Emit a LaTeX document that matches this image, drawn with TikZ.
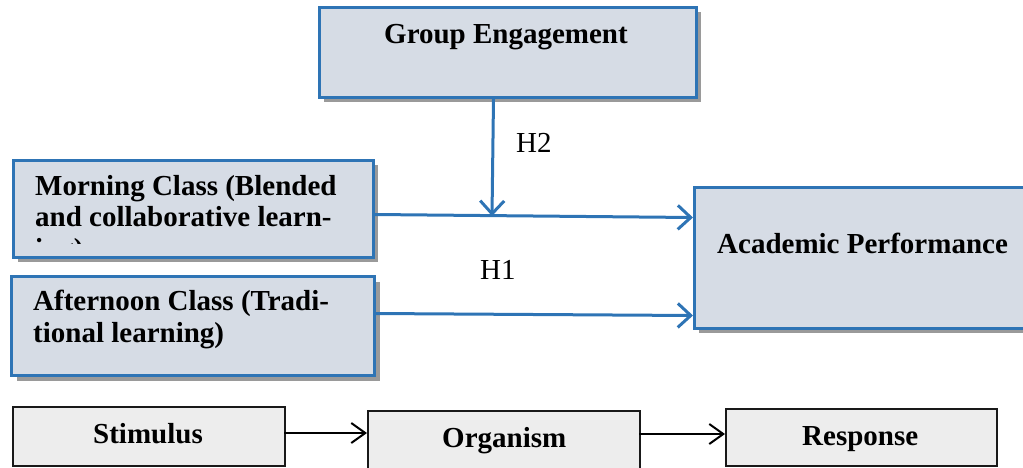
\documentclass[tikz,border=0pt]{standalone}
\usepackage{fontspec}
\setmainfont{Liberation Serif}
\usetikzlibrary{arrows.meta,calc}
\definecolor{boxblue}{HTML}{2E74B5}
\definecolor{boxfill}{HTML}{D6DCE5}
\definecolor{shadowgray}{HTML}{9A9A9A}
\definecolor{sorfill}{HTML}{EDEDED}
\tikzset{
 bluebox/.style={draw=boxblue, line width=3pt, fill=boxfill, inner sep=0pt, anchor=north west},
 shadowbox/.style={fill=shadowgray, draw=none, inner sep=0pt, anchor=north west},
 lbl/.style={font=\fontsize{29}{31.5}\selectfont\bfseries, anchor=base west, inner sep=0pt, align=left},
 hlbl/.style={font=\fontsize{29}{31}\selectfont, anchor=base west, inner sep=0pt},
 bluearrow/.style={draw=boxblue, line width=3pt, -{Straight Barb[length=13pt,width=24pt,line width=3pt]}},
 sorbox/.style={draw=black!90, line width=2pt, fill=sorfill, inner sep=0pt, anchor=north west},
 sorlbl/.style={font=\fontsize{29}{31}\selectfont\bfseries, anchor=base west, inner sep=0pt},
 blackarrow/.style={draw=black, line width=2pt, -{Straight Barb[length=14pt,width=20pt,line width=2pt]}},
}
\begin{document}
\begin{tikzpicture}[x=1pt,y=-1pt]
\useasboundingbox (0,0) rectangle (1023,467);
\clip (0,0) rectangle (1023,467);
% Group Engagement
\node[shadowbox, minimum width=377pt, minimum height=90pt] (ges) at (324,12) {};
\node[bluebox, minimum width=377pt, minimum height=90pt] (ge) at (318,6) {};
\node[lbl] (get) at (384,43) {Group Engagement};
% Morning class
\node[shadowbox, minimum width=360pt, minimum height=97pt] (mcs) at (18,165) {};
\node[bluebox, minimum width=360pt, minimum height=97pt] (mc) at (12,159) {};
\begin{scope}
\clip (12,159) rectangle (372,243);
\node[lbl] (mct) at (35,258) {Morning Class (Blended\\and collaborative learn-\\ing)};
\end{scope}
% Afternoon class
\node[shadowbox, minimum width=363pt, minimum height=99pt] (acs) at (17,282) {};
\node[bluebox, minimum width=363pt, minimum height=99pt] (ac) at (10,275) {};
\node[lbl] (act) at (33,342) {Afternoon Class (Tradi-\\tional learning)};
% Academic performance
\node[shadowbox, minimum width=360pt, minimum height=141pt] (aps) at (699,192) {};
\node[bluebox, minimum width=360pt, minimum height=141pt] (ap) at (693,186) {};
\node[lbl] (apt) at (717,253) {Academic Performance};
% labels
\node[hlbl] (h2) at (516,152) {H2};
\node[hlbl] (h1) at (480,279) {H1};
% connectors
\coordinate (h2end) at (492,216);
\draw[bluearrow] ([xshift=-14.5pt]ge.south) -- (h2end);
\draw[bluearrow] ([yshift=-5.5pt]mc.east) -- ([yshift=40.5pt]ap.west);
\draw[bluearrow] ([yshift=12.5pt]ac.east) -- ([yshift=-57.5pt]ap.west);
% S-O-R
\node[sorbox, minimum width=272pt, minimum height=59pt] (stim) at (12,406) {};
\node[sorbox, minimum width=272pt, minimum height=62pt] (org) at (367,410) {};
\node[sorbox, minimum width=271pt, minimum height=57pt] (resp) at (725,408) {};
\node[sorlbl] (stimt) at (93,443) {Stimulus};
\node[sorlbl] (orgt) at (442,447) {Organism};
\node[sorlbl] (respt) at (802,445) {Response};
\coordinate (a1) at (284,433);
\coordinate (a2) at (639,434);
\draw[blackarrow] (a1) -- (a1 -| org.west);
\draw[blackarrow] (a2) -- (a2 -| resp.west);
\end{tikzpicture}
\end{document}
